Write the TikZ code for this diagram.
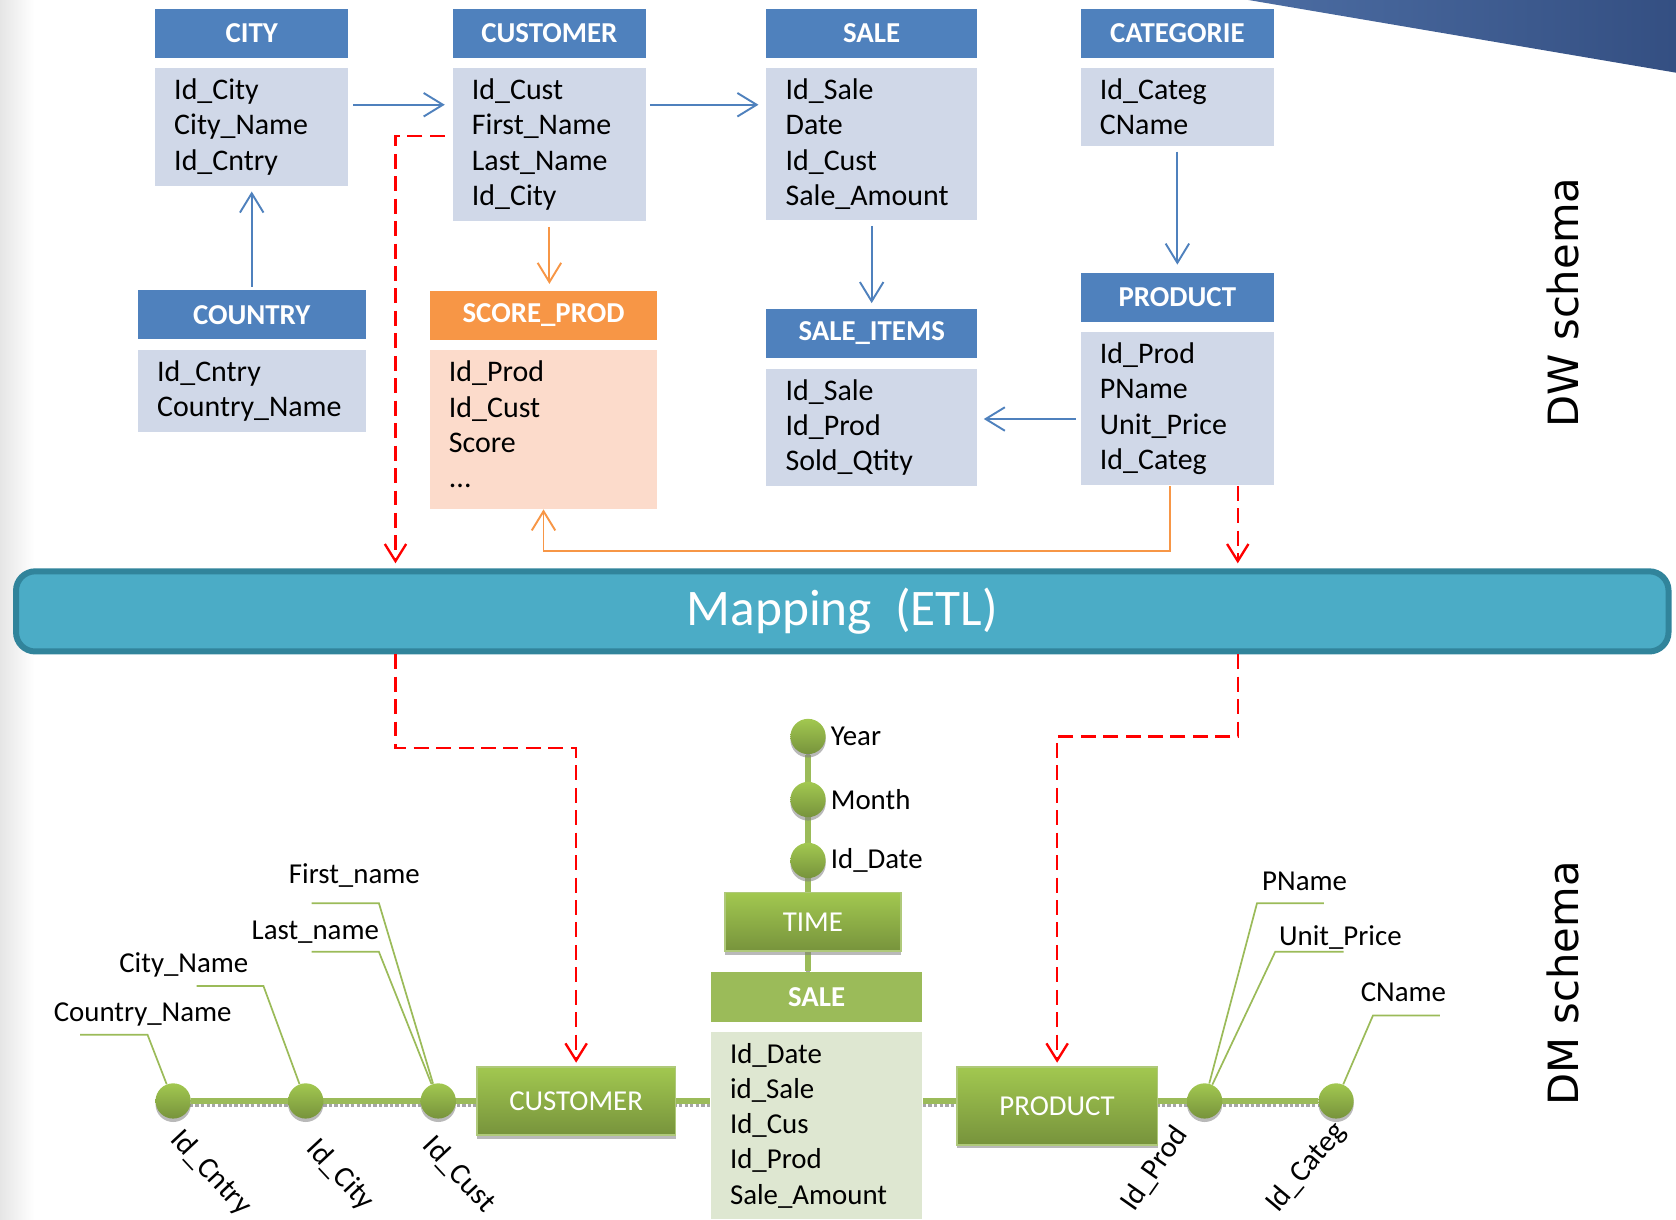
\documentclass[tikz,border=0pt]{standalone}
\usepackage{fontspec}
\setmainfont{Carlito}
\newfontfamily\schemafont{DejaVu Sans}
\usepackage{tikz}
\usetikzlibrary{arrows.meta, positioning, backgrounds, shadows}

\definecolor{hdrblue}{HTML}{4F81BD}
\definecolor{bodyblue}{HTML}{D0D8E8}
\definecolor{hdrorange}{HTML}{F79646}
\definecolor{bodyorange}{HTML}{FCDBCB}
\definecolor{dmgreen}{HTML}{9BBB59}
\definecolor{dmgreenlt}{HTML}{A2C850}
\definecolor{dmgreendk}{HTML}{77933C}
\definecolor{dmbody}{HTML}{DEE7D1}
\definecolor{etlfill}{HTML}{4BACC6}
\definecolor{etlrim}{HTML}{31849B}
\definecolor{swooshlt}{HTML}{4C6DA3}
\definecolor{swooshdk}{HTML}{344F82}

\begin{document}
\begin{tikzpicture}[
    x=0.5pt, y=-0.5pt,
    hdr/.style={rectangle, fill=hdrblue, text=white, minimum width=#1, minimum height=23pt, inner sep=0pt, font=\fontsize{13.5}{16}\selectfont\bfseries},
    body/.style={rectangle, fill=bodyblue, text width=#1, align=left, inner xsep=9pt, inner ysep=5pt, font=\fontsize{14}{16.5}\selectfont},
    arr/.style={-{Straight Barb[length=9pt, width=11pt]}, line width=0.9pt, draw=hdrblue},
    oarr/.style={arr, draw=hdrorange},
    etlarr/.style={-{Straight Barb[length=8pt, width=10pt]}, line width=1.1pt, draw=red, dash pattern=on 7pt off 3.5pt},
    etl/.style={rectangle, rounded corners=9pt, fill=etlfill, draw=etlrim, line width=2.8pt, minimum width=773pt, minimum height=37.5pt, text=white, font=\fontsize{24}{28}\selectfont},
    schema/.style={rotate=90, font=\schemafont\fontsize{19.5}{23}\selectfont},
    dmshadow/.style={drop shadow={shadow xshift=0pt, shadow yshift=-1.6pt, opacity=0.55, fill=gray}},
    dmbox/.style={rectangle, dmshadow, top color=dmgreenlt, bottom color=dmgreendk, draw=dmgreen!80!white, line width=0.8pt, text=white, font=\fontsize{13.5}{16}\selectfont},
    dmhdr/.style={rectangle, fill=dmgreen, text=white, minimum width=99pt, minimum height=23.5pt, inner sep=0pt, font=\fontsize{13.5}{16}\selectfont\bfseries},
    dmbody/.style={rectangle, fill=dmbody, text width=81pt, align=left, inner xsep=9pt, inner ysep=5pt, font=\fontsize{13.5}{16.5}\selectfont},
    level/.style={circle, dmshadow, minimum size=16.5pt, inner sep=0pt, top color=dmgreenlt, bottom color=dmgreendk},
    dmlbl/.style={inner sep=0pt, font=\fontsize{13.5}{16}\selectfont},
    keylbl/.style={inner sep=0pt, font=\fontsize{14}{16}\selectfont},
    dimline/.style={line width=2.8pt, draw=dmgreen},
    dimshadow/.style={line width=1.6pt, draw=gray!70, densely dotted},
    leader/.style={line width=0.8pt, draw=dmgreen}
]
\useasboundingbox (0,0) rectangle (1568,1141);

% backdrop
\shade[left color=black!10, right color=white] (0,0) rectangle (32,1141);
\shade[left color=swooshlt, right color=swooshdk] (1168,0) -- (1568,68) -- (1568,0) -- cycle;

% DW schema - row 1
\node[hdr=90.5pt] (cityh) at (235.5,31) {CITY};
\node[body=72.5pt, below=4.5pt of cityh] (cityb) {Id\_City\\City\_Name\\Id\_Cntry};
\node[hdr=90.5pt] (custh) at (514,31) {CUSTOMER};
\node[body=72.5pt, below=4.5pt of custh] (custb) {Id\_Cust\\First\_Name\\Last\_Name\\Id\_City};
\node[hdr=98.5pt] (saleh) at (815.5,31) {SALE};
\node[body=80.5pt, below=4.5pt of saleh] (saleb) {Id\_Sale\\Date\\Id\_Cust\\Sale\_Amount};
\node[hdr=90.5pt] (categh) at (1101.5,31) {CATEGORIE};
\node[body=72.5pt, below=4.5pt of categh] (categb) {Id\_Categ\\CName};

% DW schema - row 2
\node[hdr=106.5pt] (cntryh) at (235.5,294.5) {COUNTRY};
\node[body=88.5pt, below=4.5pt of cntryh] (cntryb) {Id\_Cntry\\Country\_Name};
\node[hdr=106.5pt, fill=hdrorange] (scoreh) at (508.5,295) {SCORE\_PROD};
\node[body=88.5pt, fill=bodyorange, below=4.5pt of scoreh] (scoreb) {Id\_Prod\\Id\_Cust\\Score\\...\strut};
\node[hdr=98.5pt] (itemsh) at (815.5,312) {SALE\_ITEMS};
\node[body=80.5pt, below=4.5pt of itemsh] (itemsb) {Id\_Sale\\Id\_Prod\\Sold\_Qtity};
\node[hdr=90.5pt] (prodh) at (1101.5,278) {PRODUCT};
\node[body=72.5pt, below=4.5pt of prodh] (prodb) {Id\_Prod\\PName\\Unit\_Price\\Id\_Categ};

\node[schema] (dw) at (1462,283) {DW schema};

% DW links
\draw[arr, shorten <=2pt, shorten >=3.5pt] (cityb.east |- 0,98) -- (custb.west |- 0,98);
\draw[arr, shorten <=1.5pt, shorten >=3.5pt] (custb.east |- 0,98) -- (saleb.west |- 0,98);
\draw[arr, shorten <=1.5pt, shorten >=2.5pt] (cntryh) -- (cityb);
\draw[oarr, shorten <=2.5pt, shorten >=3pt] (custb.south) -- (custb.south |- scoreh.north);
\draw[arr, shorten <=2.5pt, shorten >=2.5pt] (saleb) -- (itemsh);
\draw[arr, shorten <=2.5pt, shorten >=3.5pt] (categb) -- (prodh);
\draw[arr, shorten <=2pt, shorten >=3pt] (prodb.west |- 0,392) -- (itemsb.east |- 0,392);
\draw[oarr] ([xshift=-3.25pt]prodb.south) -- ++(0,61) -| (scoreb.south);

% Mapping
\node[etl] (etl) at (788,572) {Mapping~~(ETL)};
\coordinate (inL) at (370,527);
\coordinate (inR) at (1158,527);
\coordinate (outL) at (370,612);
\coordinate (outR) at (1158,612);

\draw[etlarr] (custb.west |- 0,127) ++(-7,0) -| (inL);
\draw[etlarr] ([xshift=28.25pt]prodb.south) -- (inR);

% DM schema
\node[dmbox, minimum width=82.5pt, minimum height=27.5pt] (dmtime) at (760.5,862.5) {TIME};
\node[dmhdr] (dmsaleh) at (764,932.5) {SALE};
\node[dmbody, below=4.5pt of dmsaleh] (dmsaleb) {Id\_Date\\id\_Sale\\Id\_Cus\\Id\_Prod\\Sale\_Amount};
\node[dmbox, minimum width=93pt, minimum height=32pt] (dmcust) at (539,1030) {CUSTOMER};
\node[dmbox, minimum width=94pt, minimum height=36.5pt] (dmprod) at (989,1034.5) {PRODUCT};

\node[level] (cyear) at (756,689) {};
\node[level] (cmonth) at (756,748) {};
\node[level] (cdate) at (756,805) {};
\node[dmlbl, right=2pt of cyear] (lyear) {Year};
\node[dmlbl, right=2pt of cmonth] (lmonth) {Month};
\node[dmlbl, right=2pt of cdate] (ldate) {Id\_Date};

\node[level] (ccntry) at (162,1030) {};
\node[level] (ccity) at (286,1030) {};
\node[level] (ccust) at (410,1030) {};
\node[level] (cprod) at (1127,1030) {};
\node[level] (ccateg) at (1250,1030) {};

\node[dmlbl] (lcntryname) at (133.5,949) {Country\_Name};
\node[dmlbl] (lcityname) at (172,903) {City\_Name};
\node[dmlbl] (llast) at (295,872) {Last\_name};
\node[dmlbl] (lfirst) at (331.5,819) {First\_name};
\node[dmlbl] (lpname) at (1220.5,825) {PName};
\node[dmlbl] (lprice) at (1254,877.5) {Unit\_Price};
\node[dmlbl] (lcname) at (1313,928) {CName};

\node[keylbl, anchor=north west, rotate=-47] (kcntry) at (173,1053) {Id\_Cntry};
\node[keylbl, anchor=north west, rotate=-47] (kcity) at (300,1062) {Id\_City};
\node[keylbl, anchor=north west, rotate=-47] (kcust) at (409,1059) {Id\_Cust};
\node[keylbl, anchor=north east, rotate=55] (kprod) at (1096,1050) {Id\_Prod};
\node[keylbl, anchor=north east, rotate=50] (kcateg) at (1245,1046) {Id\_Categ};

\node[schema] (dm) at (1462,920) {DM schema};

\draw[etlarr, shorten >=1.5pt] (outL) -- ++(0,88) -| (dmcust.north);
\draw[etlarr, shorten >=1.5pt] (outR) -- ++(0,77) -| (dmprod.north);

% leader starts
\coordinate (pcntry) at (75,968);
\coordinate (pcity) at (184,922.5);
\coordinate (plast) at (291.5,890.5);
\coordinate (pfirst) at (291.5,845);
\coordinate (ppname) at (1238.5,845);
\coordinate (pprice) at (1257,890.5);
\coordinate (pcname) at (1347,950);

\begin{scope}[on background layer]
\draw[dimshadow] ([yshift=-2pt]cyear.center) -- ([yshift=-2pt]cyear |- dmsaleh.north);
\draw[dimshadow] ([yshift=-2.2pt]ccntry.center) -- ([yshift=-2.2pt]dmsaleb.west |- ccntry);
\draw[dimshadow] ([yshift=-2.2pt]dmsaleb.east |- cprod) -- ([yshift=-2.2pt]ccateg.center);
\draw[dimline] (cyear) -- (cyear |- dmsaleh.north);
\draw[dimline] (ccntry) -- (dmsaleb.west |- ccntry);
\draw[dimline] (dmsaleb.east |- cprod) -- (ccateg);
\draw[leader] (pcntry) -- ++(63,0) -- (ccntry);
\draw[leader] (pcity) -- ++(62.5,0) -- (ccity);
\draw[leader] (plast) -- ++(63,0) -- (ccust);
\draw[leader] (pfirst) -- ++(63,0) -- (ccust);
\draw[leader] (ppname) -- ++(-62.5,0) -- (cprod);
\draw[leader] (pprice) -- ++(-64,0) -- (cprod);
\draw[leader] (pcname) -- ++(-62.5,0) -- (ccateg);
\end{scope}

\end{tikzpicture}
\end{document}
